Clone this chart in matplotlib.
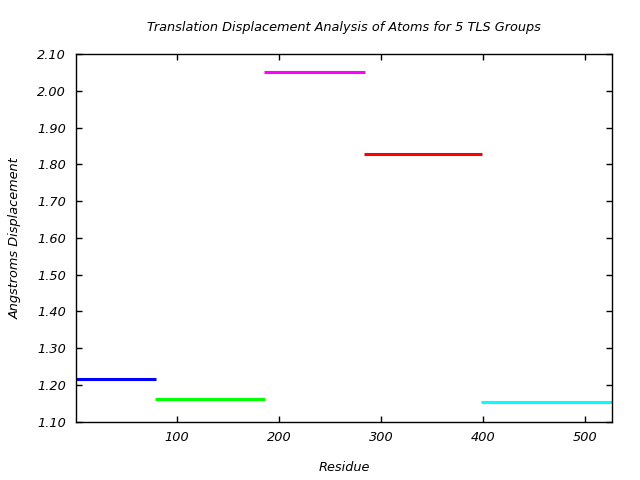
import matplotlib
matplotlib.use("Agg")
import matplotlib.pyplot as plt

# TLS group segments: residue start, residue end, displacement
group_start = [1, 78, 185, 283, 398]
group_end = [79, 186, 284, 399, 527]
displacement = [1.215, 1.161, 2.051, 1.828, 1.153]
group_colors = ['#0000ff', '#00ff00', '#ff00ff', '#ff0000', '#00ffff']

yticks = [1.10, 1.20, 1.30, 1.40, 1.50, 1.60, 1.70, 1.80, 1.90, 2.00, 2.10]
xticks = [100, 200, 300, 400, 500]

plt.rcParams['font.family'] = 'DejaVu Sans'
plt.rcParams['font.style'] = 'italic'

fig = plt.figure(figsize=(6.4, 4.8), dpi=100)
ax = fig.add_axes([0.11875, 0.1215, 0.838, 0.7655])

for s, e, d, c in zip(group_start, group_end, displacement, group_colors):
    ax.plot([s, e], [d, d], color=c, linewidth=2.2, solid_capstyle='butt')

ax.set_xlim(1, 527)
ax.set_ylim(1.10, 2.10)
ax.set_xticks(xticks)
ax.set_yticks(yticks)
ax.set_yticklabels(['%.2f' % v for v in yticks])
ax.tick_params(direction='in', length=4, width=1, top=True, right=True,
               labelsize=9.3, pad=7)
for sp in ax.spines.values():
    sp.set_linewidth(1)

ax.set_title('Translation Displacement Analysis of Atoms for 5 TLS Groups',
             fontsize=9.3, pad=17)
ax.set_xlabel('Residue', fontsize=9.3, labelpad=12)
ax.set_ylabel('Angstroms Displacement', fontsize=9.3, labelpad=11)

fig.savefig('out.png', dpi=100)
